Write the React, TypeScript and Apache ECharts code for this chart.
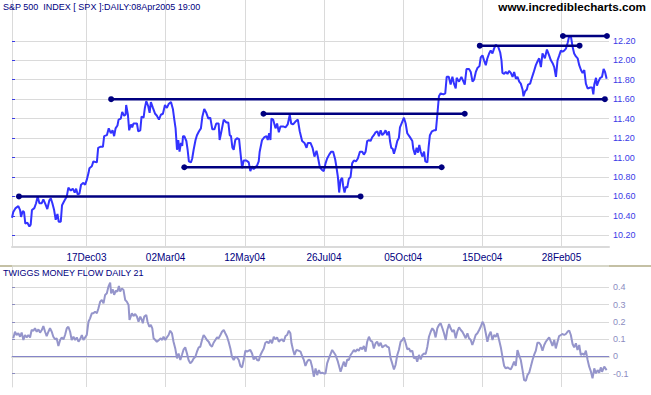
import React, { useEffect, useRef } from "react";
import * as echarts from "echarts";

// ---- data ----
const TOTAL_DAYS = 378; // trading-day slots on the time axis
const tickDays = [47, 97, 147, 197, 247, 297, 347];
const tickLabels = ["17Dec03", "02Mar04", "12May04", "26Jul04", "05Oct04", "15Dec04", "28Feb05"];
const priceTicks = [10.2, 10.4, 10.6, 10.8, 11.0, 11.2, 11.4, 11.6, 11.8, 12.0, 12.2];
const tmfTicks = [-0.1, 0, 0.1, 0.2, 0.3, 0.4];

// [trading day, S&P 500 / 100]
const spxClose: [number, number][] = [
  [0,10.38],[0.8,10.44],[2.3,10.48],[4.0,10.50],[5.1,10.46],[5.7,10.39],[6.8,10.45],[7.6,10.44],[8.4,10.32],[9.7,10.33],[11.0,10.29],[11.8,10.31],[12.6,10.46],[14.1,10.48],[15.2,10.53],[16.2,10.60],[17.3,10.53],[18.8,10.53],[19.8,10.57],[21.1,10.52],[22.3,10.47],[23.6,10.56],[24.5,10.58],[25.5,10.53],[26.6,10.46],[27.6,10.36],[28.7,10.42],[29.5,10.34],[30.8,10.34],[31.6,10.51],[32.9,10.55],[34.6,10.60],[35.6,10.69],[37.1,10.66],[38.4,10.68],[39.6,10.64],[40.5,10.68],[41.5,10.62],[42.6,10.63],[43.6,10.72],[45.1,10.74],[46.2,10.72],[47.2,10.77],[48.3,10.84],[48.9,10.89],[50.4,10.91],[51.4,10.96],[53.6,10.95],[54.4,11.10],[55.7,11.11],[57.4,11.11],[58.2,11.22],[59.9,11.23],[61.1,11.30],[62.4,11.25],[63.5,11.28],[64.5,11.22],[65.4,11.30],[66.6,11.33],[67.3,11.39],[68.7,11.40],[69.6,11.47],[70.8,11.43],[71.7,11.44],[72.1,11.54],[73.2,11.44],[74.0,11.28],[75.1,11.34],[75.9,11.31],[76.7,11.35],[78.0,11.35],[78.9,11.35],[79.7,11.27],[81.0,11.28],[81.8,11.42],[83.1,11.41],[83.9,11.51],[84.8,11.58],[86.0,11.53],[86.9,11.46],[87.7,11.57],[89.0,11.51],[90.4,11.45],[91.5,11.43],[92.8,11.39],[94.0,11.44],[95.3,11.45],[96.6,11.54],[97.8,11.51],[98.9,11.55],[100.4,11.57],[101.6,11.50],[102.5,11.39],[103.3,11.30],[104.2,11.08],[105.0,11.18],[105.8,11.06],[106.7,11.15],[107.5,11.12],[108.0,11.22],[108.8,11.22],[110.1,11.17],[110.9,11.08],[111.7,10.96],[113.0,10.95],[113.8,10.99],[114.7,11.08],[115.9,11.18],[116.8,11.23],[118.1,11.27],[119.3,11.30],[120.2,11.42],[121.4,11.50],[122.7,11.46],[124.0,11.40],[125.2,11.41],[126.5,11.29],[127.8,11.29],[129.0,11.35],[130.5,11.35],[131.1,11.18],[132.0,11.25],[133.7,11.39],[135.4,11.36],[136.6,11.36],[137.5,11.23],[138.3,11.22],[139.2,11.10],[140.0,11.08],[141.0,11.18],[142.1,11.20],[143.4,11.19],[144.2,11.06],[145.3,10.89],[146.3,10.97],[148.0,10.97],[149.5,10.95],[150.5,10.86],[151.6,10.91],[152.6,10.88],[153.7,10.90],[154.8,10.92],[155.8,10.96],[156.4,11.06],[157.9,11.18],[159.4,11.21],[160.7,11.22],[161.5,11.18],[162.4,11.25],[163.2,11.18],[163.8,11.40],[164.9,11.39],[166.4,11.30],[167.4,11.35],[168.5,11.26],[169.5,11.32],[171.2,11.32],[172.7,11.31],[174.1,11.34],[175.4,11.44],[176.3,11.35],[177.5,11.34],[179.0,11.37],[180.5,11.39],[181.7,11.27],[183.2,11.17],[184.7,11.15],[186.0,11.10],[186.8,11.15],[188.5,11.15],[189.8,11.10],[191.0,11.01],[192.3,11.07],[193.1,11.01],[194.4,10.90],[195.9,10.87],[196.9,10.86],[198.0,10.94],[199.0,10.99],[200.3,11.03],[201.6,11.06],[202.8,11.06],[204.1,10.98],[204.9,10.90],[205.8,10.80],[206.6,10.64],[207.5,10.77],[208.5,10.79],[209.1,10.71],[210.0,10.64],[210.8,10.70],[211.7,10.69],[212.7,10.78],[213.8,10.80],[214.8,10.94],[215.9,10.97],[217.2,10.96],[218.4,10.99],[219.7,11.06],[221.2,11.06],[222.2,11.03],[223.3,11.06],[224.3,11.17],[225.4,11.18],[226.4,11.17],[227.5,11.21],[228.5,11.23],[229.6,11.26],[230.7,11.27],[231.7,11.22],[232.8,11.28],[233.8,11.23],[234.9,11.25],[235.9,11.28],[237.0,11.23],[238.0,11.27],[238.7,11.17],[239.5,11.10],[240.4,11.09],[241.2,11.04],[242.3,11.10],[243.3,11.17],[244.3,11.20],[245.0,11.31],[246.5,11.37],[247.5,11.41],[248.6,11.35],[249.6,11.25],[251.3,11.21],[252.8,11.17],[253.4,11.09],[254.5,11.03],[255.5,11.10],[256.4,11.05],[257.2,11.13],[258.1,11.06],[259.1,11.01],[260.2,11.06],[261.0,10.96],[262.3,10.95],[263.1,11.11],[263.9,11.23],[265.2,11.27],[266.5,11.28],[267.7,11.28],[268.6,11.44],[269.6,11.63],[270.7,11.66],[272.4,11.65],[273.6,11.66],[274.5,11.83],[275.8,11.83],[277.0,11.75],[278.1,11.83],[279.1,11.76],[280.2,11.71],[280.8,11.82],[282.3,11.78],[283.8,11.83],[285.1,11.78],[285.9,11.75],[287.0,11.91],[288.6,11.91],[289.7,11.88],[290.8,11.78],[291.8,11.80],[292.9,11.88],[293.9,11.92],[295.2,11.94],[296.0,12.03],[297.1,12.05],[298.1,12.00],[299.2,11.95],[300.2,12.02],[301.3,12.07],[302.3,12.10],[303.4,12.07],[304.4,12.12],[305.5,12.16],[307.0,12.14],[308.3,12.08],[309.1,12.00],[309.7,11.87],[310.8,11.86],[311.8,11.88],[312.9,11.86],[313.9,11.89],[315.0,11.87],[316.1,11.83],[317.1,11.88],[318.2,11.81],[319.2,11.83],[320.3,11.78],[321.3,11.76],[322.4,11.70],[323.0,11.63],[324.0,11.68],[325.1,11.70],[325.9,11.75],[327.2,11.76],[328.1,11.81],[329.3,11.87],[330.8,11.95],[331.9,11.99],[332.9,12.02],[334.0,11.93],[335.0,12.07],[336.5,12.02],[337.8,12.11],[339.2,12.05],[340.3,12.00],[341.4,11.97],[342.4,11.93],[343.5,11.83],[344.5,12.00],[345.6,12.05],[346.6,12.10],[347.7,12.09],[348.7,12.10],[349.8,12.12],[350.9,12.18],[351.9,12.25],[352.9,12.25],[354.0,12.14],[355.0,12.07],[356.1,12.04],[357.2,12.02],[358.2,11.95],[359.3,11.90],[360.3,11.87],[361.4,11.90],[362.4,11.76],[363.5,11.71],[365.2,11.72],[366.4,11.72],[367.1,11.65],[367.7,11.75],[368.8,11.82],[369.4,11.74],[370.3,11.78],[371.5,11.82],[372.6,11.83],[373.6,11.91],[374.5,11.88],[375.5,11.81]
];

// [trading day, Twiggs Money Flow 21]
const tmf21: [number, number][] = [
  [0.8,0.105],[1.9,0.143],[2.9,0.124],[4.0,0.134],[5.1,0.114],[6.1,0.138],[7.2,0.095],[8.2,0.124],[9.3,0.110],[10.3,0.124],[11.4,0.110],[12.4,0.153],[13.5,0.149],[14.5,0.163],[15.6,0.143],[16.7,0.157],[17.7,0.138],[18.8,0.153],[19.8,0.176],[20.9,0.143],[21.9,0.118],[23.0,0.143],[24.0,0.163],[25.1,0.143],[26.1,0.114],[27.2,0.099],[28.2,0.105],[29.3,0.060],[30.4,0.095],[31.4,0.110],[32.5,0.099],[33.5,0.124],[34.6,0.163],[35.6,0.172],[36.7,0.143],[37.7,0.095],[38.8,0.114],[39.9,0.095],[40.9,0.110],[42.0,0.085],[43.0,0.099],[44.1,0.124],[45.1,0.095],[46.2,0.110],[47.2,0.124],[48.3,0.201],[49.3,0.221],[50.4,0.250],[51.4,0.250],[52.5,0.260],[53.6,0.250],[54.6,0.279],[55.7,0.318],[56.7,0.327],[57.8,0.308],[58.8,0.357],[59.9,0.366],[60.9,0.405],[62.0,0.428],[62.6,0.366],[63.7,0.389],[64.5,0.357],[65.6,0.382],[66.6,0.376],[67.5,0.409],[68.3,0.376],[69.4,0.395],[70.4,0.386],[71.5,0.327],[72.5,0.318],[73.6,0.298],[74.2,0.211],[75.7,0.250],[76.7,0.234],[77.8,0.246],[78.9,0.231],[79.9,0.201],[81.0,0.231],[82.0,0.211],[82.6,0.192],[83.5,0.231],[84.8,0.240],[85.6,0.201],[86.7,0.172],[87.7,0.182],[88.6,0.163],[89.4,0.105],[90.5,0.095],[91.5,0.085],[92.8,0.095],[94.0,0.105],[94.9,0.095],[95.7,0.114],[96.8,0.095],[97.8,0.110],[98.9,0.124],[99.9,0.149],[101.0,0.134],[102.0,0.085],[103.1,0.046],[104.2,-0.012],[105.2,0.017],[106.3,-0.021],[107.3,0.008],[108.4,0.041],[109.4,0.052],[110.5,0.017],[111.5,-0.021],[112.6,-0.041],[113.6,-0.031],[114.7,-0.012],[115.8,-0.002],[116.8,0.027],[117.9,0.052],[118.9,0.056],[120.0,0.095],[121.0,0.124],[122.1,0.110],[123.1,0.095],[124.2,0.085],[125.2,0.066],[126.3,0.056],[127.3,0.079],[128.4,0.095],[129.5,0.110],[130.5,0.105],[131.6,0.124],[132.6,0.143],[133.7,0.153],[134.7,0.134],[135.8,0.114],[136.8,0.085],[137.9,0.046],[138.9,-0.002],[140.0,-0.021],[141.1,-0.002],[142.1,-0.006],[143.2,-0.021],[144.2,-0.056],[145.3,-0.064],[146.3,-0.021],[147.4,0.033],[148.4,0.027],[149.5,0.033],[150.5,0.037],[151.6,0.017],[152.6,-0.018],[153.7,-0.002],[154.8,-0.021],[155.8,-0.025],[156.9,0.008],[157.9,0.027],[159.0,0.046],[160.0,0.079],[161.1,0.085],[162.1,0.076],[163.2,0.095],[164.2,0.076],[165.3,0.114],[166.3,0.099],[167.4,0.110],[168.5,0.085],[169.5,0.095],[170.6,0.099],[171.6,0.085],[172.7,0.118],[173.7,0.124],[174.8,0.149],[175.8,0.134],[176.5,0.076],[177.5,0.037],[178.4,0.008],[179.6,0.037],[180.9,0.033],[182.2,0.027],[183.2,0.002],[184.3,-0.021],[185.3,-0.056],[186.4,-0.031],[187.4,-0.018],[188.5,-0.025],[189.5,-0.060],[190.6,-0.118],[191.7,-0.070],[192.7,-0.109],[193.8,-0.080],[194.8,-0.099],[195.9,-0.095],[196.9,-0.099],[198.0,-0.099],[199.0,-0.041],[200.1,-0.012],[202.2,0.037],[204.3,0.008],[205.8,-0.031],[207.5,-0.089],[208.5,-0.060],[209.6,-0.031],[210.6,-0.060],[211.7,-0.018],[212.7,-0.021],[213.8,0.008],[214.8,0.021],[215.9,0.037],[216.9,0.027],[218.0,0.041],[219.0,0.033],[220.1,0.052],[221.2,0.041],[222.2,0.060],[223.3,0.027],[224.3,0.085],[225.4,0.114],[226.4,0.091],[227.5,0.085],[228.5,0.046],[229.6,0.076],[230.6,0.085],[231.7,0.060],[232.8,0.079],[233.8,0.052],[234.9,0.060],[235.9,0.066],[237.0,0.056],[238.0,0.052],[239.1,-0.012],[240.1,-0.041],[241.2,-0.076],[242.2,-0.050],[243.3,0.008],[244.3,0.037],[245.4,0.085],[246.5,0.095],[247.5,0.110],[248.6,0.076],[249.6,0.041],[250.7,0.046],[251.7,0.027],[252.8,0.033],[253.8,-0.012],[254.9,-0.002],[255.9,-0.031],[257.0,0.008],[258.1,-0.018],[259.1,0.008],[260.2,0.017],[261.2,0.013],[262.3,0.056],[263.3,0.114],[264.4,0.143],[265.4,0.163],[266.5,0.149],[267.5,0.110],[268.6,0.163],[269.6,0.182],[270.7,0.192],[271.8,0.163],[272.8,0.134],[273.9,0.095],[274.9,0.153],[276.0,0.188],[277.0,0.163],[278.1,0.143],[279.1,0.153],[280.2,0.105],[281.2,0.143],[282.3,0.169],[283.4,0.153],[284.4,0.143],[285.5,0.124],[286.5,0.105],[287.6,0.134],[288.6,0.105],[289.7,0.095],[290.7,0.066],[291.8,0.095],[292.8,0.124],[293.9,0.134],[295.0,0.153],[296.0,0.172],[297.1,0.201],[298.1,0.182],[299.2,0.134],[300.2,0.085],[301.3,0.124],[302.3,0.143],[303.4,0.095],[304.4,0.124],[305.5,0.114],[306.5,0.134],[307.6,0.095],[308.7,0.052],[309.7,-0.002],[310.8,-0.056],[311.8,-0.070],[312.9,-0.064],[313.9,-0.070],[315.0,-0.076],[316.0,-0.056],[317.1,-0.031],[318.1,-0.056],[319.2,0.037],[320.2,0.008],[321.3,-0.021],[322.4,-0.080],[323.4,-0.138],[324.5,-0.142],[325.5,-0.109],[326.6,-0.095],[327.6,-0.060],[328.7,-0.021],[329.7,0.008],[330.8,0.033],[331.8,0.079],[332.9,0.079],[333.9,0.066],[335.0,0.033],[336.1,0.066],[337.1,0.085],[338.2,0.099],[339.2,0.110],[340.3,0.085],[341.3,0.060],[342.4,0.095],[343.4,0.046],[344.5,0.085],[345.5,0.118],[346.6,0.124],[347.7,0.130],[348.7,0.124],[349.8,0.130],[350.8,0.143],[351.9,0.149],[352.9,0.124],[354.0,0.072],[355.0,0.052],[356.1,0.076],[357.1,0.037],[358.2,0.066],[359.2,0.008],[360.3,0.017],[361.4,0.008],[362.4,0.033],[363.5,-0.021],[364.5,-0.060],[365.6,-0.089],[366.6,-0.128],[367.7,-0.070],[368.7,-0.099],[369.8,-0.080],[370.8,-0.095],[371.9,-0.064],[372.6,-0.090],[374.0,-0.060],[375.5,-0.080]
];

// horizontal support / resistance lines
const trendLevels = [10.6, 11.6, 10.9, 11.45, 12.15, 12.25];
const trendStart = [4.4, 62.6, 108.8, 158.8, 295.4, 347.9];
const trendEnd = [220.1, 374.4, 271.3, 285.9, 358.4, 375.7];

const FONT = "'Liberation Sans', Arial, sans-serif";
const GRID_COLOR = "#dadada";
const PRICE_MIN = 10.08;
const PRICE_MAX = 12.62;
const TMF_MIN = -0.178;
const TMF_MAX = 0.519;

export default function App() {
  const ref = useRef<HTMLDivElement>(null);

  useEffect(() => {
    if (!ref.current) return;
    const chart = echarts.init(ref.current, undefined, { renderer: "svg" });

    const categories = Array.from({ length: TOTAL_DAYS }, (_, i) => {
      const k = tickDays.indexOf(i);
      return k >= 0 ? tickLabels[k] : "d" + i;
    });
    const isTick = (i: number) => tickDays.indexOf(i) >= 0;
    const isTickOrEdge = (i: number) => i === 0 || isTick(i);

    const trendSeries = trendLevels.map((lvl, k) => ({
      type: "line",
      xAxisIndex: 1,
      yAxisIndex: 0,
      data: [
        [trendStart[k], lvl],
        [trendEnd[k], lvl],
      ],
      symbol: "circle",
      symbolSize: 6,
      showSymbol: true,
      lineStyle: { color: "#000080", width: 2.5 },
      itemStyle: { color: "#000080" },
      silent: true,
      z: 4,
    }));

    const option: any = {
      animation: false,
      grid: [
        { left: 12, top: 0, width: 597, height: 247 },
        { left: 12, top: 267, width: 597, height: 120 },
      ],
      xAxis: [
        {
          type: "category",
          gridIndex: 0,
          data: categories,
          boundaryGap: false,
          axisLine: { show: true, lineStyle: { color: GRID_COLOR, width: 2 } },
          axisTick: { show: false },
          axisLabel: {
            interval: (i: number) => isTick(i),
            color: "#000080",
            fontSize: 10,
            fontFamily: FONT,
            margin: 5,
          },
          splitLine: { show: true, interval: (i: number) => isTickOrEdge(i), lineStyle: { color: GRID_COLOR, width: 1 } },
        },
        { type: "value", gridIndex: 0, min: 0, max: TOTAL_DAYS - 1, show: false },
        {
          type: "category",
          gridIndex: 1,
          data: categories,
          boundaryGap: false,
          axisLine: { show: true, lineStyle: { color: GRID_COLOR, width: 2 } },
          axisTick: { show: true, interval: (i: number) => isTick(i), length: 7, lineStyle: { color: GRID_COLOR } },
          axisLabel: { show: false },
          splitLine: { show: true, interval: (i: number) => isTickOrEdge(i), lineStyle: { color: GRID_COLOR, width: 1 } },
        },
        { type: "value", gridIndex: 1, min: 0, max: TOTAL_DAYS - 1, show: false },
      ],
      yAxis: [
        {
          type: "value",
          gridIndex: 0,
          position: "right",
          min: PRICE_MIN,
          max: PRICE_MAX,
          axisLine: { show: true, lineStyle: { color: GRID_COLOR } },
          axisTick: { show: true, customValues: priceTicks, length: 3, lineStyle: { color: "#3a3ae6" } },
          axisLabel: {
            customValues: priceTicks,
            formatter: (v: number) => v.toFixed(2),
            color: "#3a3ae6",
            fontSize: 9,
            fontFamily: FONT,
            margin: 4,
          },
          splitLine: { show: true, lineStyle: { color: GRID_COLOR, width: 1 } },
        },
        {
          type: "value",
          gridIndex: 1,
          position: "right",
          min: TMF_MIN,
          max: TMF_MAX,
          axisLine: { show: true, lineStyle: { color: GRID_COLOR } },
          axisTick: { show: true, customValues: tmfTicks, length: 3, lineStyle: { color: "#8c8cbf" } },
          axisLabel: {
            customValues: tmfTicks,
            formatter: (v: number) => String(Math.round(v * 10) / 10),
            color: "#8c8cbf",
            fontSize: 9,
            fontFamily: FONT,
            margin: 4,
          },
          splitLine: { show: true, lineStyle: { color: GRID_COLOR, width: 1 } },
        },
      ],
      series: [
        {
          type: "line",
          xAxisIndex: 1,
          yAxisIndex: 0,
          data: spxClose,
          symbol: "none",
          showSymbol: false,
          lineStyle: { color: "#3333ff", width: 2 },
          itemStyle: { color: "#3333ff" },
          silent: true,
          z: 3,
        },
        ...trendSeries,
        {
          type: "line",
          xAxisIndex: 3,
          yAxisIndex: 1,
          data: tmf21,
          symbol: "none",
          showSymbol: false,
          lineStyle: { color: "#9595cb", width: 2 },
          itemStyle: { color: "#9595cb" },
          silent: true,
          z: 3,
          markLine: {
            silent: true,
            z: 2,
            symbol: "none",
            label: { show: false },
            emphasis: { disabled: true },
            lineStyle: { color: "#8585c8", width: 1, type: "solid" },
            data: [{ yAxis: 0 }],
          },
        },
      ],
      graphic: [
        {
          type: "text",
          left: 3,
          top: 2,
          style: {
            text: "S&P 500  INDEX [ SPX ]:DAILY:08Apr2005 19:00",
            fill: "#000080",
            font: `9px ${FONT}`,
          },
          z: 10,
        },
        {
          type: "text",
          right: 5,
          top: 0,
          style: {
            text: "www.incrediblecharts.com",
            fill: "#000000",
            font: `bold 11.7px ${FONT}`,
          },
          z: 10,
        },
        { type: "rect", shape: { x: 0, y: 265, width: 651, height: 2 }, style: { fill: "#d6d6c8" }, z: 1 },
        { type: "rect", shape: { x: 0, y: 265, width: 12, height: 2 }, style: { fill: "#c4c0a4" }, z: 1 },
        { type: "rect", shape: { x: 609, y: 265, width: 42, height: 2 }, style: { fill: "#c4c0a4" }, z: 1 },
        {
          type: "text",
          left: 3,
          top: 268,
          style: {
            text: "TWIGGS MONEY FLOW DAILY 21",
            fill: "#000080",
            font: `9px ${FONT}`,
          },
          z: 10,
        },
      ],
    };

    chart.setOption(option);
    return () => chart.dispose();
  }, []);

  return (
    <div
      ref={ref}
      style={{ position: "fixed", left: 0, top: 0, width: 651, height: 395, background: "#fff" }}
    />
  );
}
